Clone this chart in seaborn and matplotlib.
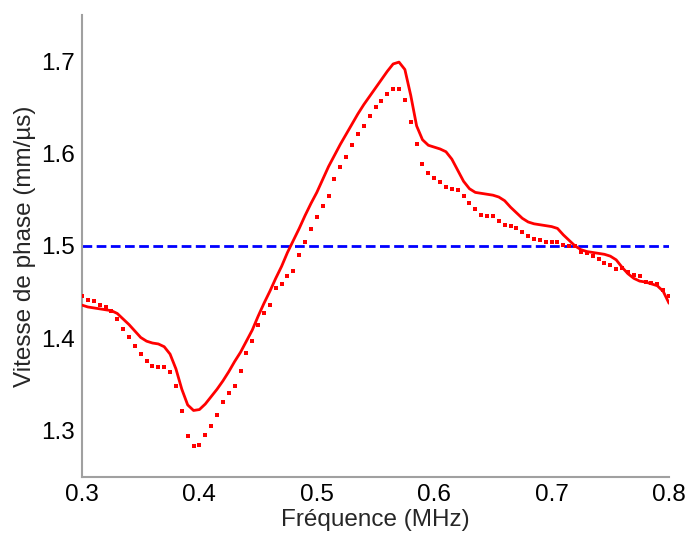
import numpy as np
import pandas as pd
import seaborn as sns
import matplotlib
matplotlib.use("Agg")
import matplotlib.pyplot as plt

# Fréquence (MHz), pas de 0.005
freq = np.round(np.linspace(0.3, 0.8, 101), 3)

# Vitesse de phase mesurée (trait plein)
v_mesure = [
    1.436, 1.434, 1.433, 1.432, 1.431, 1.430, 1.427, 1.421, 1.415, 1.408,
    1.401, 1.397, 1.395, 1.394, 1.391, 1.383, 1.367, 1.345, 1.328, 1.322,
    1.323, 1.329, 1.337, 1.345, 1.354, 1.364, 1.375, 1.385, 1.397, 1.409,
    1.424, 1.438, 1.451, 1.465, 1.478, 1.493, 1.506, 1.519, 1.533, 1.546,
    1.558, 1.572, 1.586, 1.598, 1.610, 1.621, 1.632, 1.643, 1.653, 1.662,
    1.671, 1.680, 1.689, 1.697, 1.699, 1.691, 1.663, 1.630, 1.615, 1.609,
    1.607, 1.605, 1.602, 1.594, 1.582, 1.570, 1.562, 1.558, 1.557, 1.556,
    1.555, 1.553, 1.549, 1.542, 1.536, 1.530, 1.526, 1.524, 1.523, 1.522,
    1.521, 1.519, 1.512, 1.506, 1.500, 1.496, 1.494, 1.493, 1.492, 1.491,
    1.489, 1.485, 1.477, 1.470, 1.465, 1.462, 1.461, 1.459, 1.457, 1.451,
    1.438,
]

# Vitesse de phase (pointillés)
v_points = [
    1.446, 1.442, 1.440, 1.436, 1.434, 1.430, 1.421, 1.410, 1.401, 1.392,
    1.383, 1.375, 1.370, 1.369, 1.369, 1.364, 1.349, 1.321, 1.294, 1.284,
    1.285, 1.295, 1.305, 1.317, 1.331, 1.341, 1.348, 1.365, 1.384, 1.397,
    1.414, 1.428, 1.436, 1.455, 1.459, 1.467, 1.473, 1.490, 1.504, 1.518,
    1.531, 1.543, 1.554, 1.572, 1.586, 1.596, 1.609, 1.621, 1.630, 1.641,
    1.650, 1.657, 1.665, 1.670, 1.670, 1.658, 1.634, 1.610, 1.589, 1.579,
    1.574, 1.569, 1.564, 1.562, 1.561, 1.554, 1.547, 1.540, 1.533, 1.532,
    1.532, 1.527, 1.523, 1.522, 1.519, 1.515, 1.511, 1.508, 1.506, 1.504,
    1.504, 1.504, 1.501, 1.500, 1.500, 1.493, 1.492, 1.489, 1.486, 1.482,
    1.479, 1.475, 1.476, 1.472, 1.469, 1.467, 1.461, 1.460, 1.459, 1.452,
    1.446,
]

# vitesse de référence
v_ref = 1.5

df = pd.DataFrame({"freq": freq, "mesure": v_mesure, "points": v_points})

sns.set_style("white")
plt.rcParams['font.family'] = ['Liberation Sans', 'DejaVu Sans']

fig = plt.figure(figsize=(6.91, 5.35), dpi=100)
ax = fig.add_axes([0.1187, 0.1084, 0.8495, 0.8636])

ax.axhline(v_ref, color='#0000ff', lw=2, dashes=(3.5, 1.6), zorder=2)
sns.lineplot(x='freq', y='mesure', data=df, color='#ff0000', lw=2.0, ax=ax, zorder=3)
sns.scatterplot(x='freq', y='points', data=df, color='#ff0000', marker='s', s=5,
                linewidth=0, ax=ax, zorder=3)

ax.set_xlim(0.3, 0.8)
ax.set_ylim(1.25, 1.75)
ax.set_xticks([0.3, 0.4, 0.5, 0.6, 0.7, 0.8])
ax.set_yticks([1.3, 1.4, 1.5, 1.6, 1.7])
ax.set_xticklabels(['0.3', '0.4', '0.5', '0.6', '0.7', '0.8'])
ax.set_yticklabels(['1.3', '1.4', '1.5', '1.6', '1.7'])

ax.set_xlabel('Fréquence (MHz)', fontsize=17.5, labelpad=2)
ax.set_ylabel('Vitesse de phase (mm/µs)', fontsize=17.5, labelpad=4)

sns.despine(ax=ax)
for s in ['left', 'bottom']:
    ax.spines[s].set_color('#a0a0a0')
    ax.spines[s].set_linewidth(1.5)
ax.tick_params(direction='in', length=4.5, width=1, color='#a0a0a0',
               labelsize=17.5, labelcolor='black', pad=5)

plt.savefig('out.png', dpi=100)
